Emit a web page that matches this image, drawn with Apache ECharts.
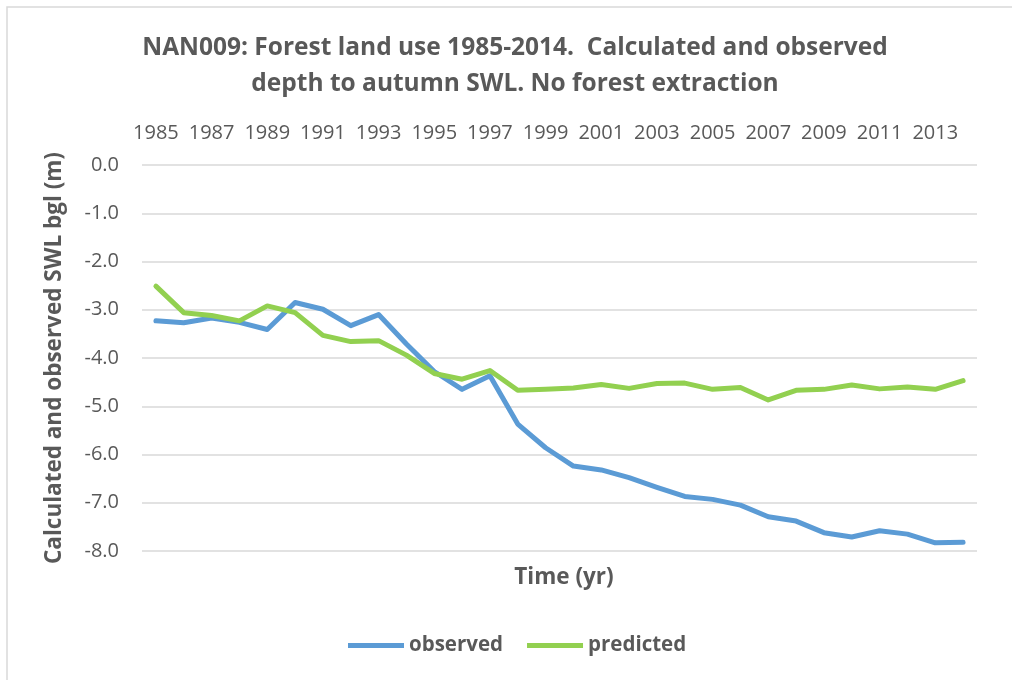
<!DOCTYPE html>
<html>
<head>
<meta charset="utf-8">
<script src="https://cdn.jsdelivr.net/npm/echarts@6/dist/echarts.min.js"></script>
<style>
  html, body { margin: 0; padding: 0; background: #fff; }
  #chart { width: 1012px; height: 680px; }
</style>
</head>
<body>
<div id="chart"></div>
<script>
// Years on the category axis
const years = [
  '1985', '1986', '1987', '1988', '1989', '1990', '1991', '1992', '1993', '1994',
  '1995', '1996', '1997', '1998', '1999', '2000', '2001', '2002', '2003', '2004',
  '2005', '2006', '2007', '2008', '2009', '2010', '2011', '2012', '2013', '2014'
];

// Observed depth to autumn SWL (m below ground level, negative downward)
const observed = [
  -3.23, -3.27, -3.17, -3.26, -3.41, -2.85, -2.99, -3.33, -3.10, -3.71,
  -4.28, -4.65, -4.37, -5.37, -5.86, -6.24, -6.32, -6.48, -6.68, -6.87,
  -6.93, -7.05, -7.29, -7.38, -7.62, -7.71, -7.58, -7.65, -7.83, -7.82
];

// Calculated (predicted) depth to autumn SWL
const predicted = [
  -2.51, -3.06, -3.12, -3.23, -2.92, -3.06, -3.53, -3.66, -3.64, -3.94,
  -4.32, -4.44, -4.26, -4.67, -4.65, -4.62, -4.55, -4.63, -4.53, -4.52,
  -4.65, -4.61, -4.87, -4.67, -4.65, -4.56, -4.64, -4.60, -4.65, -4.47
];

const textColor = '#595959';
const gridColor = '#d9d9d9';
const labelFont = '"Open Sans", "Liberation Sans", sans-serif';

const chart = echarts.init(document.getElementById('chart'), null, { renderer: 'canvas' });

chart.setOption({
  backgroundColor: '#ffffff',
  animation: false,
  graphic: [{
    type: 'rect',
    silent: true,
    shape: { x: 7, y: 7, width: 1100, height: 800 },
    style: { fill: 'none', stroke: gridColor, lineWidth: 1.5 }
  }],
  title: [{
    text: 'NAN009: Forest land use 1985-2014.  Calculated and observed\ndepth to autumn SWL. No forest extraction',
    left: 510,
    top: 25,
    textAlign: 'center',
    textStyle: {
      color: textColor,
      fontFamily: labelFont,
      fontWeight: 'bold',
      fontSize: 24.5,
      lineHeight: 36
    }
  }, {
    text: 'Time (yr)',
    left: 559,
    top: 561,
    textAlign: 'center',
    textStyle: {
      color: textColor,
      fontFamily: labelFont,
      fontWeight: 'bold',
      fontSize: 22.5
    }
  }],
  legend: {
    bottom: 19,
    left: 343,
    itemWidth: 56,
    itemHeight: 5,
    itemGap: 24,
    textStyle: {
      color: textColor,
      fontFamily: labelFont,
      fontWeight: 'bold',
      fontSize: 20.5
    },
    data: [
      { name: 'observed', icon: 'path://M0,0 L56,0 L56,5 L0,5 Z' },
      { name: 'predicted', icon: 'path://M0,0 L56,0 L56,5 L0,5 Z' }
    ]
  },
  grid: {
    left: 142,
    right: 35,
    top: 165,
    bottom: 129,
    containLabel: false
  },
  xAxis: {
    type: 'category',
    position: 'top',
    data: years,
    boundaryGap: true,
    axisLine: { show: false },
    axisTick: { show: false },
    axisLabel: {
      interval: 1,
      margin: 22,
      color: textColor,
      fontFamily: labelFont,
      fontSize: 20
    },
    splitLine: { show: false }
  },
  yAxis: {
    type: 'value',
    min: -8,
    max: 0,
    interval: 1,
    name: 'Calculated and observed SWL bgl (m)',
    nameLocation: 'middle',
    nameGap: 76,
    nameRotate: 90,
    nameTextStyle: {
      color: textColor,
      fontFamily: labelFont,
      fontWeight: 'bold',
      fontSize: 22.5
    },
    axisLine: { show: false },
    axisTick: { show: false },
    axisLabel: {
      margin: 23,
      color: textColor,
      fontFamily: labelFont,
      fontSize: 20,
      formatter: v => v.toFixed(1)
    },
    splitLine: { lineStyle: { color: gridColor, width: 1.5 } }
  },
  series: [{
    name: 'observed',
    type: 'line',
    data: observed,
    symbol: 'none',
    color: '#5b9bd5',
    lineStyle: { width: 5, color: '#5b9bd5', cap: 'round', join: 'round' }
  }, {
    name: 'predicted',
    type: 'line',
    data: predicted,
    symbol: 'none',
    color: '#92d050',
    lineStyle: { width: 5, color: '#92d050', cap: 'round', join: 'round' }
  }]
});
</script>
</body>
</html>
